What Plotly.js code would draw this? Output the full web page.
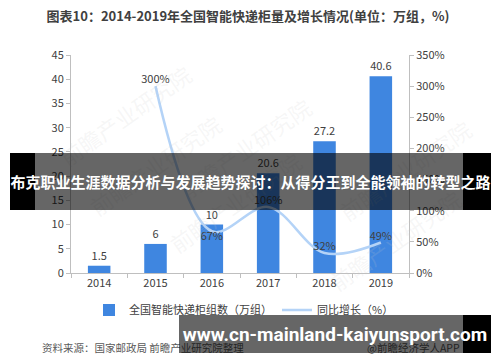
<!DOCTYPE html>
<html>
<head>
<meta charset="utf-8">
<script src="https://cdn.plot.ly/plotly-3.0.1.min.js"></script>
<style>
html,body{margin:0;padding:0;background:#fff;}
#chart{width:500px;height:362px;}
</style>
</head>
<body>
<div id="chart"></div>
<script>
// ---- data ----
var years = ['2014', '2015', '2016', '2017', '2018', '2019'];
var cabinets = [1.5, 6, 10, 20.6, 27.2, 40.6];           // 万组
var growthYears = ['2015', '2016', '2017', '2018', '2019'];
var growth = [300, 67, 106, 32, 49];                     // %
var growthPos = ['top center', 'bottom center', 'top center', 'top center', 'top center'];
var barName = '全国智能快递柜组数（万组）';
var lineName = '同比增长（%）';
var titleText = '图表10：2014-2019年全国智能快递柜量及增长情况(单位：万组，%)';
var bannerText = '布克职业生涯数据分析与发展趋势探讨：从得分王到全能领袖的转型之路';
var siteText = 'www.cn-mainland-kaiyunsport.com';
var sourceText = '资料来源：国家邮政局 前瞻产业研究院整理';
var appText = '@前瞻经济学人APP';
var watermark = '前瞻产业研究院';

var FONT = '"Noto Sans CJK SC", "Noto Sans", sans-serif';
var TXT = '#404040';

// plot area pixel geometry
var L = 71, R = 409, T = 55, B = 273;
function px(x) { return (x - L) / (R - L); }
function py(y) { return (B - y) / (B - T); }

var traces = [
  {
    type: 'bar', x: years, y: cabinets, name: barName,
    marker: {color: '#3f86e0'}, width: 0.4,
    text: cabinets.map(String), textposition: 'outside',
    textfont: {size: 11, color: TXT, family: FONT}, cliponaxis: false,
    hoverinfo: 'skip'
  },
  {
    type: 'scatter', mode: 'lines+text', x: growthYears, y: growth, yaxis: 'y2',
    name: lineName,
    line: {color: '#b4d3f7', width: 2.5, shape: 'spline', smoothing: 1},
    text: growth.map(function (v) { return v + '%'; }),
    textposition: growthPos,
    textfont: {size: 11, color: TXT, family: FONT}, cliponaxis: false,
    hoverinfo: 'skip'
  }
];

var annotations = [];
// faint watermarks
[[245, 88], [50, 55], [480, 110], [80, 225], [235, 262], [470, 300]].forEach(function (p) {
  annotations.push({
    xref: 'paper', yref: 'paper', x: px(p[0]), y: py(p[1]), showarrow: false,
    text: watermark, textangle: -35,
    font: {family: FONT, size: 22, color: 'rgba(200,200,200,0.16)'}
  });
});
// source
annotations.push({
  xref: 'paper', yref: 'paper', x: px(40), y: py(347), xanchor: 'left', yanchor: 'middle',
  showarrow: false, text: sourceText, font: {family: FONT, size: 10.5, color: '#595959'}
});
annotations.push({
  xref: 'paper', yref: 'paper', x: px(462), y: py(347), xanchor: 'right', yanchor: 'middle',
  showarrow: false, text: appText, font: {family: FONT, size: 10.5, color: '#595959'}
});
// top banner
annotations.push({
  xref: 'paper', yref: 'paper', x: px(10), y: py(181.5), xanchor: 'left', yanchor: 'middle',
  showarrow: false, text: '<b>' + bannerText + '</b>', width: 481, height: 57,
  borderpad: 0, borderwidth: 0, bgcolor: 'rgba(0,0,0,0.6)', align: 'center', valign: 'middle',
  font: {family: FONT, size: 15, color: '#ffffff'}
});
// bottom banner
annotations.push({
  xref: 'paper', yref: 'paper', x: px(179), y: py(334), xanchor: 'left', yanchor: 'middle',
  showarrow: false, text: '<b>' + siteText + '</b>', width: 312, height: 38,
  borderpad: 0, borderwidth: 0, bgcolor: 'rgba(0,0,0,0.6)', align: 'center', valign: 'middle',
  font: {family: 'Roboto, "Noto Sans", sans-serif', size: 19, color: '#ffffff'}
});

var shapes = [
  {type: 'rect', xref: 'paper', yref: 'paper', x0: px(10), x1: px(35), y0: py(153), y1: py(210),
   fillcolor: '#000', line: {width: 0}, layer: 'above'},
  {type: 'rect', xref: 'paper', yref: 'paper', x0: px(463), x1: px(491), y0: py(153), y1: py(210),
   fillcolor: '#000', line: {width: 0}, layer: 'above'},
  {type: 'rect', xref: 'paper', yref: 'paper', x0: px(463), x1: px(491), y0: py(315), y1: py(353),
   fillcolor: '#000', line: {width: 0}, layer: 'above'}
];

var layout = {
  width: 500, height: 362, autosize: false,
  margin: {l: L, r: 500 - R, t: T, b: 362 - B, pad: 0},
  paper_bgcolor: '#fff', plot_bgcolor: '#fff',
  font: {family: FONT, size: 11, color: TXT},
  showlegend: true,
  title: {
    text: '<b>' + titleText + '</b>', x: 0.496, xanchor: 'center', y: 1 - 16 / 362, yanchor: 'middle',
    font: {family: FONT, size: 13, color: '#404040'}
  },
  xaxis: {
    type: 'category', showline: true, linecolor: '#bfbfbf', linewidth: 1,
    ticks: 'outside', tickson: 'boundaries', ticklen: 4, tickcolor: '#bfbfbf',
    showgrid: false, zeroline: false, tickfont: {size: 11, color: TXT, family: FONT}
  },
  yaxis: {
    range: [0, 45], dtick: 5, showline: true, linecolor: '#bfbfbf', linewidth: 1,
    ticks: 'outside', ticklen: 4, tickcolor: '#bfbfbf', showgrid: false, zeroline: false,
    tickfont: {size: 11, color: TXT, family: FONT}
  },
  yaxis2: {
    overlaying: 'y', side: 'right', range: [0, 350], dtick: 50, ticksuffix: '%',
    showline: true, linecolor: '#bfbfbf', linewidth: 1, ticks: 'outside', ticklen: 4,
    tickcolor: '#bfbfbf', showgrid: false, zeroline: false,
    tickfont: {size: 11, color: TXT, family: FONT}
  },
  legend: {
    orientation: 'h', x: px(244), xanchor: 'center', y: py(310), yanchor: 'middle',
    font: {size: 11, color: TXT, family: FONT}, bgcolor: 'rgba(0,0,0,0)', traceorder: 'normal'
  },
  annotations: annotations,
  shapes: shapes,
  bargap: 0.6
};

Plotly.newPlot('chart', traces, layout, {displayModeBar: false, staticPlot: true});
</script>
</body>
</html>
